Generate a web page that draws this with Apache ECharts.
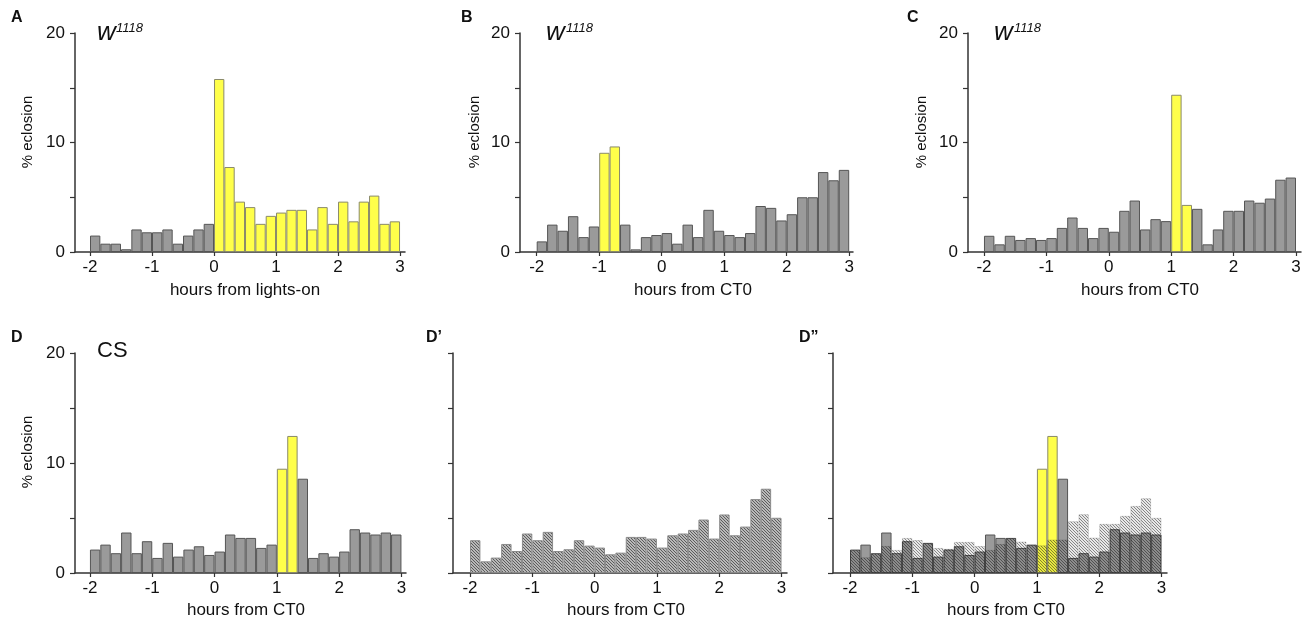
<!DOCTYPE html>
<html>
<head>
<meta charset="utf-8">
<script src="https://cdn.jsdelivr.net/npm/echarts@6/dist/echarts.min.js"></script>
<style>
html, body { margin: 0; padding: 0; background: #fff; }
#main { width: 1309px; height: 621px; }
</style>
</head>
<body>
<div id="main"></div>
<script>
// start of each 10-min bin, minutes from reference time
var binStarts = [-120,-110,-100,-90,-80,-70,-60,-50,-40,-30,-20,-10,
                 0,10,20,30,40,50,60,70,80,90,100,110,120,130,140,150,160,170];
var xTicks = [-2, -1, 0, 1, 2, 3];

// % eclosion per bin
var valsA = [1.5,0.76,0.76,0.25,2.06,1.8,1.8,2.06,0.76,1.5,2.06,2.57,
             15.8,7.76,4.6,4.1,2.57,3.3,3.6,3.85,3.85,2.06,4.1,2.57,4.6,2.8,4.6,5.15,2.57,2.8];
var valsB = [0.97,2.5,1.94,3.27,1.36,2.33,9.06,9.64,2.5,0.24,1.36,1.55,
             1.73,0.76,2.5,1.36,3.85,1.94,1.55,1.36,1.73,4.2,4.03,2.88,3.45,5.0,5.0,7.3,6.55,7.5];
var valsC = [1.48,0.7,1.48,1.1,1.27,1.1,1.27,2.2,3.15,2.2,1.27,2.2,
             1.85,3.76,4.7,2.06,3.0,2.82,14.36,4.3,3.94,0.7,2.06,3.76,3.76,4.7,4.5,4.88,6.6,6.8];
var valsCS = [2.13,2.58,1.8,3.68,1.8,2.89,1.37,2.74,1.49,2.13,2.43,1.64,
              1.95,3.5,3.19,3.19,2.28,2.58,9.48,12.46,8.57,1.37,1.8,1.49,1.95,3.98,3.68,3.5,3.68,3.5];
var valsDp = [2.98,1.06,1.4,2.64,2.0,3.59,2.98,3.74,2.0,2.16,2.98,2.49,
              2.31,1.7,1.85,3.28,3.28,3.13,2.31,3.43,3.59,3.92,4.86,3.13,5.32,3.43,4.22,6.72,7.66,5.02];
var valsDpp = [2.1,1.43,1.78,2.46,2.1,3.19,3.0,2.72,2.28,2.2,2.83,2.83,
               2.46,2.1,2.64,3.17,2.86,2.56,2.52,3.04,3.04,4.71,5.35,3.22,4.47,4.47,5.2,6.1,6.8,5.02];

// yellow windows, minutes [from, to)
var yellowA = [0, 180];
var yellowB = [-60, -40];
var yellowC = [60, 80];
var yellowD = [60, 80];

var GRAY = '#9a9a9a', GRAY_EDGE = '#555';
var YELLOW = '#ffff4a', YELLOW_EDGE = '#8a8a6a';
var FONT = 'Liberation Sans, Arial, sans-serif';

function hatch(bg, line, w) {
    var c = document.createElement('canvas');
    c.width = 3; c.height = 3;
    var g = c.getContext('2d');
    g.fillStyle = bg;
    g.fillRect(0, 0, 3, 3);
    g.strokeStyle = line;
    g.lineWidth = w;
    g.beginPath();
    g.moveTo(-1, -1); g.lineTo(4, 4);
    g.moveTo(-1, 2); g.lineTo(1, 4);
    g.moveTo(2, -1); g.lineTo(4, 1);
    g.stroke();
    return { image: c, repeat: 'repeat' };
}

function barData(vals, win) {
    return vals.map(function (v, i) {
        var m = binStarts[i];
        var yel = win && m >= win[0] && m < win[1];
        var d = { value: [(m + 5) / 60, v] };
        if (yel) d.itemStyle = { color: YELLOW, borderColor: YELLOW_EDGE };
        return d;
    });
}

var panels = [
    { grid: { left: 75,  top: 33,  width: 330, height: 219 }, min: -2.242, max: 3.08,  yLab: true },
    { grid: { left: 520, top: 33,  width: 333, height: 219 }, min: -2.267, max: 3.061, yLab: true },
    { grid: { left: 968, top: 33,  width: 333, height: 219 }, min: -2.256, max: 3.08,  yLab: true },
    { grid: { left: 75,  top: 353, width: 331, height: 220 }, min: -2.24,  max: 3.073, yLab: true },
    { grid: { left: 453, top: 353, width: 334, height: 220 }, min: -2.273, max: 3.088, yLab: false },
    { grid: { left: 833, top: 353, width: 334, height: 220 }, min: -2.273, max: 3.088, yLab: false }
];

var grids = [], xAxes = [], yAxes = [];
panels.forEach(function (p, i) {
    grids.push(p.grid);
    xAxes.push({
        type: 'value', gridIndex: i, min: p.min, max: p.max,
        axisLine: { onZero: false, lineStyle: { color: '#333', width: 1.5 } },
        axisTick: { show: true, length: 4, customValues: xTicks, lineStyle: { color: '#333', width: 1.2 } },
        axisLabel: { customValues: xTicks, fontSize: 17, color: '#111', fontFamily: FONT, margin: 7 },
        splitLine: { show: false }
    });
    yAxes.push({
        type: 'value', gridIndex: i, min: 0, max: 20, interval: 5,
        axisLine: { show: true, onZero: false, lineStyle: { color: '#333', width: 1.5 } },
        axisTick: { show: true, length: 5, lineStyle: { color: '#333', width: 1.2 } },
        axisLabel: {
            show: p.yLab, fontSize: 17, color: '#111', fontFamily: FONT, margin: 10,
            formatter: function (v) { return v % 10 === 0 ? String(v) : ''; }
        },
        splitLine: { show: false }
    });
});

function barSeries(idx, data, style) {
    return {
        type: 'bar', xAxisIndex: idx, yAxisIndex: idx,
        barWidth: '100%', barGap: '-100%',
        itemStyle: style, data: data, silent: true, animation: false
    };
}

var grayStyle = { color: GRAY, borderColor: GRAY_EDGE, borderWidth: 1 };
var series = [
    barSeries(0, barData(valsA, yellowA), grayStyle),
    barSeries(1, barData(valsB, yellowB), grayStyle),
    barSeries(2, barData(valsC, yellowC), grayStyle),
    barSeries(3, barData(valsCS, yellowD), grayStyle),
    barSeries(4, barData(valsDp, null),
        { color: hatch('#e2e2e2', '#555', 1.1), borderColor: '#8a8a8a', borderWidth: 1 }),
    barSeries(5, barData(valsCS, yellowD), grayStyle),
    barSeries(5, barData(valsDpp, null),
        { color: hatch('rgba(0,0,0,0.09)', 'rgba(0,0,0,0.42)', 1), borderColor: 'rgba(0,0,0,0.15)', borderWidth: 1 })
];

function txt(x, y, s, size, opt) {
    opt = opt || {};
    return {
        type: 'text', x: x, y: y, rotation: opt.rot || 0, silent: true,
        style: {
            text: s, fill: '#111', fontFamily: FONT, fontSize: size,
            fontWeight: opt.bold ? 'bold' : 'normal', fontStyle: opt.italic ? 'italic' : 'normal',
            align: opt.align || 'left', verticalAlign: opt.va || 'middle'
        }
    };
}

var graphics = [
    txt(11, 18, 'A', 16, { bold: true }),
    txt(461, 18, 'B', 16, { bold: true }),
    txt(907, 18, 'C', 16, { bold: true }),
    txt(11, 338, 'D', 16, { bold: true }),
    txt(426, 338, 'D\u2019', 16, { bold: true }),
    txt(799, 338, 'D\u201d', 16, { bold: true }),

    txt(97, 33, 'w', 26, { italic: true }),
    txt(116, 28, '1118', 13, { italic: true }),
    txt(546, 33, 'w', 26, { italic: true }),
    txt(566, 28, '1118', 13, { italic: true }),
    txt(994, 33, 'w', 26, { italic: true }),
    txt(1014, 28, '1118', 13, { italic: true }),
    txt(97, 351, 'CS', 22),

    txt(28, 132, '% eclosion', 15, { rot: Math.PI / 2, align: 'center' }),
    txt(475, 132, '% eclosion', 15, { rot: Math.PI / 2, align: 'center' }),
    txt(922, 132, '% eclosion', 15, { rot: Math.PI / 2, align: 'center' }),
    txt(28, 452, '% eclosion', 15, { rot: Math.PI / 2, align: 'center' }),

    txt(245, 290, 'hours from lights-on', 17, { align: 'center' }),
    txt(693, 290, 'hours from CT0', 17, { align: 'center' }),
    txt(1140, 290, 'hours from CT0', 17, { align: 'center' }),
    txt(246, 610, 'hours from CT0', 17, { align: 'center' }),
    txt(626, 610, 'hours from CT0', 17, { align: 'center' }),
    txt(1006, 610, 'hours from CT0', 17, { align: 'center' })
];

var myChart = echarts.init(document.getElementById('main'));
myChart.setOption({
    backgroundColor: '#fff',
    animation: false,
    grid: grids,
    xAxis: xAxes,
    yAxis: yAxes,
    series: series,
    graphic: graphics
});
</script>
</body>
</html>
